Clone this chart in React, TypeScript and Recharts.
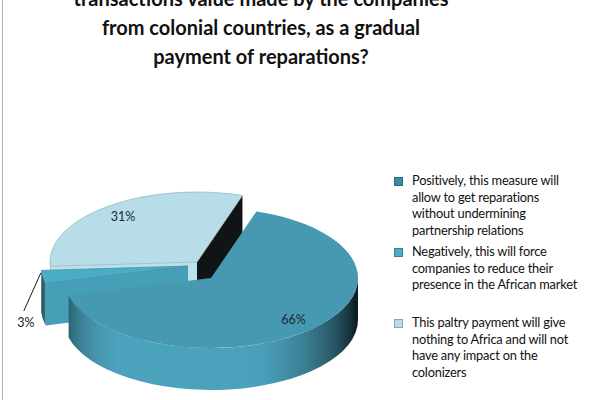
import React from 'react';
import { PieChart, Pie, Legend } from 'recharts';

const categories = [
  'Positively, this measure will allow to get reparations without undermining partnership relations',
  'Negatively, this will force companies to reduce their presence in the African market',
  'This paltry payment will give nothing to Africa and will not have any impact on the colonizers',
];
const legendLines = [
  ['Positively, this measure will', 'allow to get reparations', 'without undermining', 'partnership relations'],
  ['Negatively, this will force', 'companies to reduce their', 'presence in the African market'],
  ['This paltry payment will give', 'nothing to Africa and will not', 'have any impact on the', 'colonizers'],
];
const values = [66, 3, 31];
const colors = ['#4799B2', '#4BACC6', '#B7DDE8'];
const legendColors = ['#3A8BA5', '#4BACC6', '#B7DDE8'];
const titleLines = [
  'transactions value made by the companies',
  'from colonial countries, as a gradual',
  'payment of reparations?',
];

// drawn counter-clockwise so that back slices are painted first
const pieData = categories
  .map((name, i) => ({ name, value: values[i], fill: colors[i], idx: i }))
  .reverse();

const FONT = 'Lato, "Open Sans", sans-serif';
const K = 0.476;
const DEPTH = 42;
const rad = (d: number) => (d * Math.PI) / 180;

function shade(hex: string, b: number) {
  const n = parseInt(hex.slice(1), 16);
  const c = [(n >> 16) & 255, (n >> 8) & 255, n & 255].map((v) =>
    Math.max(0, Math.min(255, Math.round(v * b)))
  );
  return `rgb(${c[0]},${c[1]},${c[2]})`;
}
function wallLight(theta: number) {
  return Math.min(1.06, 0.2 + Math.max(0, Math.cos(rad(theta - 192))));
}
function faceLight(theta: number) {
  const c = Math.max(0, Math.cos(rad(theta - 192)));
  return Math.min(1.02, 0.08 + 1.05 * c * c);
}
// projected explosion offsets (3-D perspective makes them uneven)
function explodeFor(idx: number) {
  if (idx === 0) return [7, 9];
  if (idx === 1) return [-16, -3];
  return [-7, -7];
}

const Slice3D = (props: any) => {
  const { cx, cy, outerRadius: r, startAngle, endAngle, fill, payload } = props;
  const idx = payload?.idx ?? props.idx ?? 0;
  const a1 = Math.min(startAngle, endAngle);
  const a2 = Math.max(startAngle, endAngle);
  const ry = r * K;
  const [ex, ey] = explodeFor(idx);
  const ox = cx + ex;
  const oy = cy + ey;
  const P = (a: number, dy = 0) => [ox + r * Math.cos(rad(a)), oy - ry * Math.sin(rad(a)) + dy];
  const f = (p: number[]) => `${p[0].toFixed(2)},${p[1].toFixed(2)}`;
  const gid = `wall-grad-${idx}`;
  const stops = [];
  for (let a = 180; a <= 360; a += 10) {
    const off = (1 + Math.cos(rad(a))) / 2;
    stops.push(<stop key={a} offset={off} stopColor={shade(fill, wallLight(90 - a + 360))} />);
  }
  const walls = [];
  for (let k = -1; k <= 2; k++) {
    const lo = Math.max(a1, 180 + 360 * k);
    const hi = Math.min(a2, 360 + 360 * k);
    if (hi > lo) {
      const d = `M${f(P(lo))} A${r},${ry} 0 0 0 ${f(P(hi))} L${f(P(hi, DEPTH))} A${r},${ry} 0 0 1 ${f(P(lo, DEPTH))} Z`;
      walls.push(<path key={k} d={d} fill={`url(#${gid})`} />);
    }
  }
  const faces = [];
  const addFace = (a: number, theta: number, key: string) => {
    const d = `M${ox},${oy} L${f(P(a))} L${f(P(a, DEPTH))} L${ox},${oy + DEPTH} Z`;
    faces.push(<path key={key} d={d} fill={shade(fill, faceLight(theta))} />);
  };
  if (Math.cos(rad(a1)) > 0) {
    const th = (Math.atan2(Math.sin(rad(a1)), -Math.cos(rad(a1))) * 180) / Math.PI;
    addFace(a1, th, 's');
  }
  if (Math.cos(rad(a2)) < 0) {
    const th = (Math.atan2(-Math.sin(rad(a2)), Math.cos(rad(a2))) * 180) / Math.PI;
    addFace(a2, th, 'e');
  }
  const large = a2 - a1 > 180 ? 1 : 0;
  const top = `M${ox},${oy} L${f(P(a1))} A${r},${ry} 0 ${large} 0 ${f(P(a2))} Z`;
  return (
    <g>
      <defs>
        <linearGradient id={gid} gradientUnits="userSpaceOnUse" x1={ox - r} x2={ox + r} y1={0} y2={0}>
          {stops}
        </linearGradient>
      </defs>
      {faces}
      {walls}
      <path d={top} fill={fill} stroke={shade(fill, 0.8)} strokeWidth={idx === 0 ? 0 : 0.7} />
    </g>
  );
};

const renderLabel = (props: any) => {
  const { cx, cy, outerRadius: r, midAngle, value, payload } = props;
  const idx = payload?.idx ?? 0;
  const [ex, ey] = explodeFor(idx);
  const ry = r * K;
  const ox = cx + ex;
  const oy = cy + ey;
  if (value < 5) {
    const sx = ox + r * Math.cos(rad(midAngle)) - 2;
    const sy = oy - ry * Math.sin(rad(midAngle)) - 4;
    const lx = sx - 17;
    const ly = sy + 38;
    return (
      <g>
        <line x1={sx} y1={sy} x2={lx} y2={ly} stroke="#1a1a1a" strokeWidth={1} />
        <text x={lx + 2} y={ly + 16} textAnchor="middle" fontFamily={FONT} fontSize={12.5} fill="#1a1a1a">
          {`${value}%`}
        </text>
      </g>
    );
  }
  const lx = ox + 0.82 * r * Math.cos(rad(midAngle));
  const ly = oy - 0.82 * ry * Math.sin(rad(midAngle));
  return (
    <text x={lx} y={ly} textAnchor="middle" dominantBaseline="central" fontFamily={FONT} fontSize={12.5} fill="#1a2a33">
      {`${value}%`}
    </text>
  );
};

const LegendBox = () => (
  <div style={{ fontFamily: FONT, fontSize: 12.8, color: '#111', letterSpacing: -0.2 }}>
    {legendLines.map((lines, i) => (
      <div key={i} style={{ position: 'relative', height: 71, paddingLeft: 19 }}>
        <div
          style={{
            position: 'absolute',
            left: 1,
            top: 5,
            width: 7,
            height: 7,
            background: legendColors[i],
            border: `0.5px solid ${shade(legendColors[i], 0.75)}`,
          }}
        />
        {lines.map((t, j) => (
          <div key={j} style={{ lineHeight: '16.5px', whiteSpace: 'nowrap' }}>
            {t}
          </div>
        ))}
      </div>
    ))}
  </div>
);

export default function App() {
  return (
    <div
      style={{
        position: 'absolute',
        left: 0,
        top: 0,
        width: 600,
        height: 400,
        background: '#ffffff',
        overflow: 'hidden',
      }}
    >
      <div style={{ position: 'absolute', left: 2, top: 0, width: 1, height: 400, background: '#b4b4b4' }} />
      <div
        style={{
          position: 'absolute',
          left: 41,
          top: -16,
          width: 440,
          textAlign: 'center',
          fontFamily: FONT,
          fontWeight: 700,
          fontSize: 20,
          lineHeight: '29px',
          color: '#111',
        }}
      >
        {titleLines.map((t, i) => (
          <div key={i}>{t}</div>
        ))}
      </div>
      <PieChart width={600} height={400} style={{ position: 'absolute', left: 0, top: 0 }}>
        <Pie
          data={pieData}
          dataKey="value"
          nameKey="name"
          cx={199}
          cy={264}
          outerRadius={147}
          startAngle={72}
          endAngle={432}
          shape={Slice3D}
          label={renderLabel}
          labelLine={false}
          stroke="none"
          isAnimationActive={false}
        />
        <Legend
          content={() => <LegendBox />}
          wrapperStyle={{ position: 'absolute', left: 393, top: 172, width: 205, height: 220 }}
        />
      </PieChart>
    </div>
  );
}
